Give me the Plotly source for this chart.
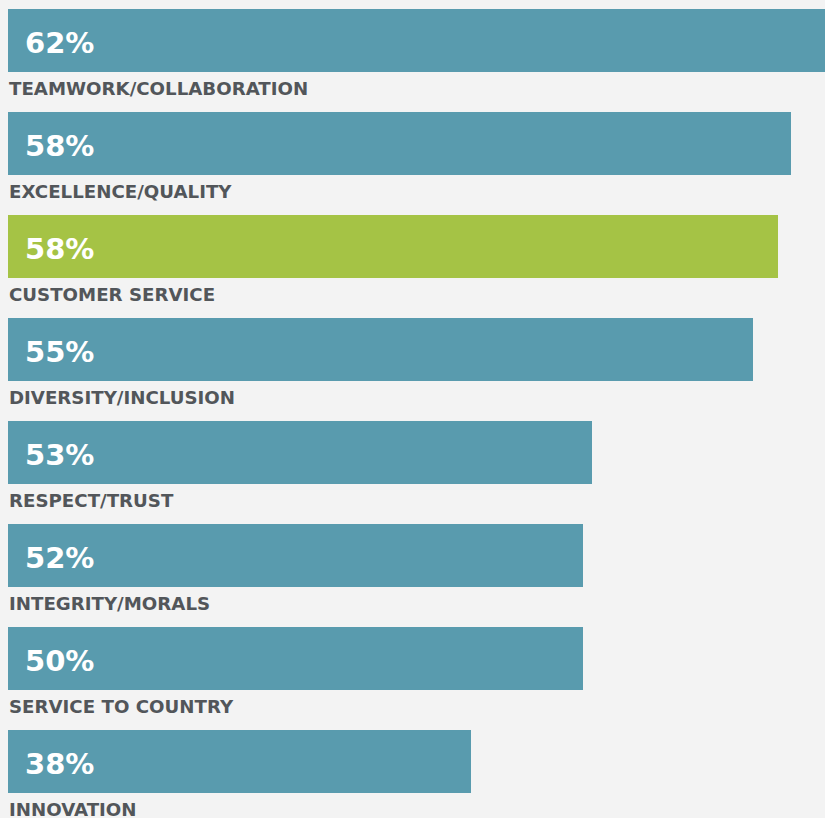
import plotly.graph_objects as go

categories = ["TEAMWORK/COLLABORATION", "EXCELLENCE/QUALITY", "CUSTOMER SERVICE",
              "DIVERSITY/INCLUSION", "RESPECT/TRUST", "INTEGRITY/MORALS",
              "SERVICE TO COUNTRY", "INNOVATION"]
pct_labels = ["62%", "58%", "58%", "55%", "53%", "52%", "50%", "38%"]
# bar lengths as drawn in the original graphic (not strictly proportional to labels)
bar_lengths = [62, 59.4, 58.4, 56.5, 44.3, 43.6, 43.6, 35.1]
highlight = "CUSTOMER SERVICE"

TEAL = "#599BAE"
GREEN = "#A5C345"
BG = "#F3F3F3"
LABEL_COLOR = "#52565A"

positions = list(range(len(categories)))
colors = [GREEN if c == highlight else TEAL for c in categories]

fig = go.Figure()
fig.add_trace(go.Bar(
    x=bar_lengths, y=positions, orientation="h",
    marker=dict(color=colors, line=dict(width=0)),
    width=0.612, hoverinfo="skip", showlegend=False,
))

for i, (cat, pct) in enumerate(zip(categories, pct_labels)):
    fig.add_annotation(x=0, y=i + 0.02, xref="x", yref="y", text=pct,
                       showarrow=False, xanchor="left", yanchor="middle",
                       xshift=15,
                       font=dict(family="DejaVu Sans", size=29, color="white", weight="bold"))
    fig.add_annotation(x=0, y=i + 0.47, xref="x", yref="y", text=cat,
                       showarrow=False, xanchor="left", yanchor="middle",
                       xshift=-1,
                       font=dict(family="DejaVu Sans", size=18.2, color=LABEL_COLOR, weight="bold"))

fig.update_layout(
    width=825, height=818,
    margin=dict(l=8, r=0, t=0, b=0),
    paper_bgcolor=BG, plot_bgcolor=BG,
    xaxis=dict(range=[0, 62], visible=False, fixedrange=True),
    yaxis=dict(range=[7.549, -0.393], visible=False, fixedrange=True),
    bargap=0,
)

fig.write_html("out.html", config={"displayModeBar": False})
